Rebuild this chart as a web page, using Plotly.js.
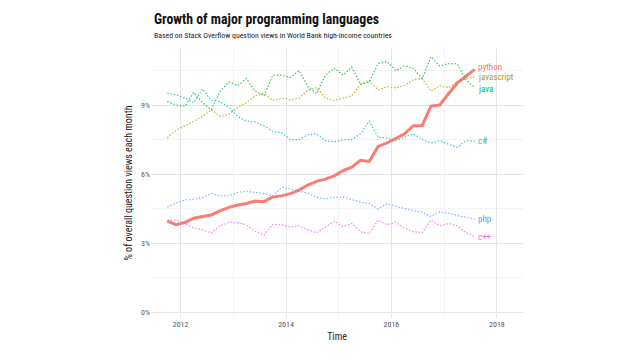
<!DOCTYPE html>
<html>
<head>
<meta charset="utf-8">
<script src="https://cdn.plot.ly/plotly-3.0.1.min.js"></script>
<style>html,body{margin:0;padding:0;background:#fff;}#chart{width:640px;height:360px;}</style>
</head>
<body>
<div id="chart"></div>
<script>
const months = ["2011-10-01","2011-12-01",
  "2012-02-01","2012-04-01","2012-06-01","2012-08-01","2012-10-01","2012-12-01",
  "2013-02-01","2013-04-01","2013-06-01","2013-08-01","2013-10-01","2013-12-01",
  "2014-02-01","2014-04-01","2014-06-01","2014-08-01","2014-10-01","2014-12-01",
  "2015-02-01","2015-04-01","2015-06-01","2015-08-01","2015-10-01","2015-12-01",
  "2016-02-01","2016-04-01","2016-06-01","2016-08-01","2016-10-01","2016-12-01",
  "2017-02-01","2017-04-01","2017-06-01","2017-08-01"];

const python = [3.95,3.8,3.9,4.08,4.15,4.22,4.4,4.55,4.65,4.72,4.83,4.8,5.0,5.05,5.15,5.3,5.52,5.68,
  5.78,5.92,6.15,6.3,6.6,6.55,7.2,7.35,7.55,7.75,8.1,8.1,8.95,9.0,9.5,9.95,10.25,10.55];
const javascript = [7.57,7.9,8.1,8.3,8.5,8.8,8.5,8.6,8.9,9.1,9.4,9.5,9.2,9.3,9.22,9.3,9.65,9.75,
  9.3,9.2,9.3,9.4,9.9,10.05,9.65,9.8,9.75,9.85,10.1,10.15,9.6,9.85,9.75,10.0,10.15,10.22];
const java = [9.15,9.0,8.95,9.55,9.1,8.8,9.6,10.0,9.85,10.15,9.6,9.4,10.3,10.3,10.2,10.5,9.8,9.5,
  10.3,10.6,10.3,10.65,9.9,10.0,10.8,10.9,10.5,10.7,10.6,10.15,11.1,10.7,10.8,10.8,10.1,9.75];
const csharp = [9.52,9.45,9.3,9.1,9.7,9.2,9.15,8.9,8.5,8.3,8.26,8.1,7.85,7.8,7.5,7.5,7.7,7.75,
  7.45,7.4,7.48,7.5,7.75,8.3,7.6,7.57,7.45,7.6,7.75,7.5,7.35,7.45,7.3,7.15,7.45,7.43];
const php = [4.57,4.75,4.87,4.9,4.98,5.15,5.05,5.05,5.2,5.25,5.2,5.15,5.05,5.42,5.35,5.25,5.17,5.0,
  4.92,4.98,5.0,4.88,4.78,4.72,4.48,4.7,4.6,4.52,4.4,4.35,4.15,4.35,4.3,4.2,4.12,4.04];
const cpp = [4.0,4.0,3.85,3.65,3.57,3.43,3.75,3.9,3.88,3.8,3.5,3.35,3.8,3.8,3.7,3.75,3.57,3.45,
  3.7,3.95,3.72,3.85,3.5,3.4,4.0,3.8,3.9,3.65,3.5,3.45,4.0,3.75,3.85,3.75,3.45,3.28];

const names = ["python","javascript","java","c#","php","c++"];
const seriesValues = [python, javascript, java, csharp, php, cpp];
const colors = ["#F8766D","#B79F00","#00BA38","#00BFC4","#619CFF","#F564E3"];
const labelShift = [2, 0, -1, 0, 0, 0];

const FONT = '"Roboto Condensed","Liberation Sans Narrow","DejaVu Sans Condensed",Roboto,sans-serif';

const traces = names.map((n, i) => ({
  type: 'scatter', mode: 'lines', name: n,
  x: months, y: seriesValues[i],
  line: n === 'python'
    ? {color: colors[i], width: 3}
    : {color: colors[i], width: 1.3, dash: '1.5px,1.8px'},
  opacity: n === 'python' ? 0.95 : 0.75,
  hoverinfo: 'skip'
}));

const labelAnn = names.map((n, i) => ({
  x: months[months.length - 1], y: seriesValues[i][seriesValues[i].length - 1],
  xref: 'x', yref: 'y', text: n, showarrow: false,
  xanchor: 'left', yanchor: 'middle', xshift: 1, yshift: labelShift[i],
  font: {family: FONT, size: 9, color: colors[i]}
}));

const layout = {
  width: 640, height: 360,
  margin: {l: 151, r: 117, t: 48, b: 42},
  paper_bgcolor: '#fff', plot_bgcolor: '#fff',
  showlegend: false,
  font: {family: FONT, color: '#333'},
  xaxis: {
    type: 'date',
    range: ['2011-06-10', '2018-07-01'],
    tick0: '2012-01-01', dtick: 'M24', tickformat: '%Y',
    showgrid: true, gridcolor: '#e6e6e6', gridwidth: 1,
    minor: {dtick: 'M12', tick0: '2012-01-01', showgrid: true, gridcolor: '#f3f3f3', gridwidth: 1},
    zeroline: false, showline: false, ticks: '',
    tickfont: {family: FONT, size: 8, color: '#555'},
    title: {text: 'Time', font: {family: FONT, size: 10, color: '#222'}, standoff: 4}
  },
  yaxis: {
    range: [-0.26, 11.48],
    tick0: 0, dtick: 3, ticksuffix: '%',
    showgrid: true, gridcolor: '#e6e6e6', gridwidth: 1,
    minor: {dtick: 1.5, tick0: 0, showgrid: true, gridcolor: '#f3f3f3', gridwidth: 1},
    zeroline: false, showline: false, ticks: '',
    tickfont: {family: FONT, size: 8, color: '#555'},
    title: {text: '% of overall question views each month', font: {family: FONT, size: 10, color: '#222'}, standoff: 6}
  },
  annotations: [
    {xref: 'paper', yref: 'paper', x: 0.003, y: 1.107, xanchor: 'left', yanchor: 'middle', showarrow: false,
     text: '<b>Growth of major programming languages</b>', font: {family: FONT, size: 13.8, color: '#111'}},
    {xref: 'paper', yref: 'paper', x: 0.003, y: 1.048, xanchor: 'left', yanchor: 'middle', showarrow: false,
     text: 'Based on Stack Overflow question views in World Bank high-income countries', font: {family: FONT, size: 7.8, color: '#222'}}
  ].concat(labelAnn)
};

Plotly.newPlot('chart', traces, layout, {staticPlot: true, displayModeBar: false});
</script>
</body>
</html>
